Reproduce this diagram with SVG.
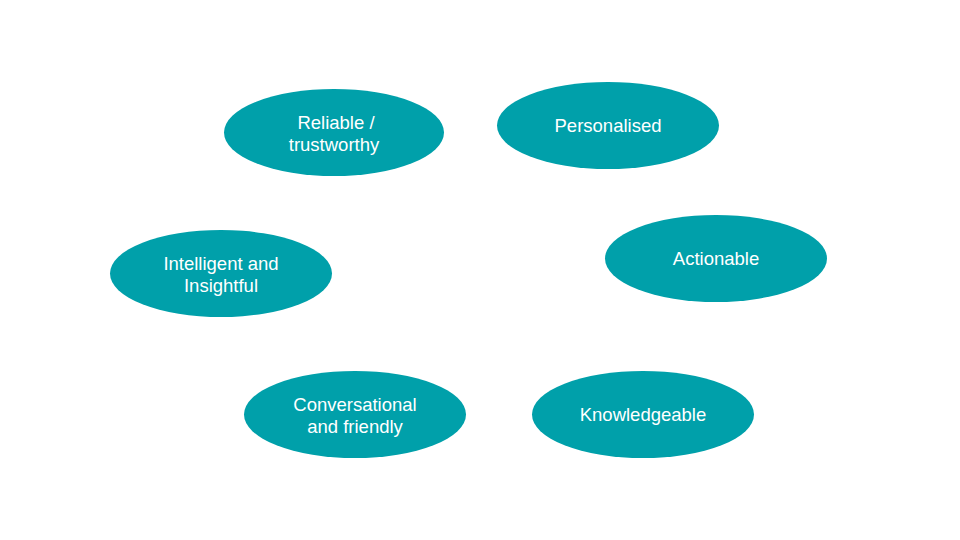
<svg xmlns="http://www.w3.org/2000/svg" width="960" height="540" viewBox="0 0 960 540">
<style>
.n ellipse{fill:#00A0AA;}
.n text{fill:#ffffff;font-family:"Liberation Sans",Arial,sans-serif;font-size:18.5px;text-anchor:middle;}
</style>
<rect width="960" height="540" fill="#ffffff"/>
<g id="reliable" class="n"><ellipse cx="334" cy="132.5" rx="110" ry="43.5"/><text x="336" y="129">Reliable /</text><text x="334" y="151">trustworthy</text></g>
<g id="personalised" class="n"><ellipse cx="608" cy="125.5" rx="111" ry="43.5"/><text x="608" y="132">Personalised</text></g>
<g id="intelligent" class="n"><ellipse cx="221" cy="273.5" rx="111" ry="43.5"/><text x="221" y="270">Intelligent and</text><text x="221" y="292">Insightful</text></g>
<g id="actionable" class="n"><ellipse cx="716" cy="258.5" rx="111" ry="43.5"/><text x="716" y="265">Actionable</text></g>
<g id="conversational" class="n"><ellipse cx="355" cy="414.5" rx="111" ry="43.5"/><text x="355" y="411">Conversational</text><text x="355" y="433">and friendly</text></g>
<g id="knowledgeable" class="n"><ellipse cx="643" cy="414.5" rx="111" ry="43.5"/><text x="643" y="421">Knowledgeable</text></g>
<g id="connectors"></g>
</svg>
